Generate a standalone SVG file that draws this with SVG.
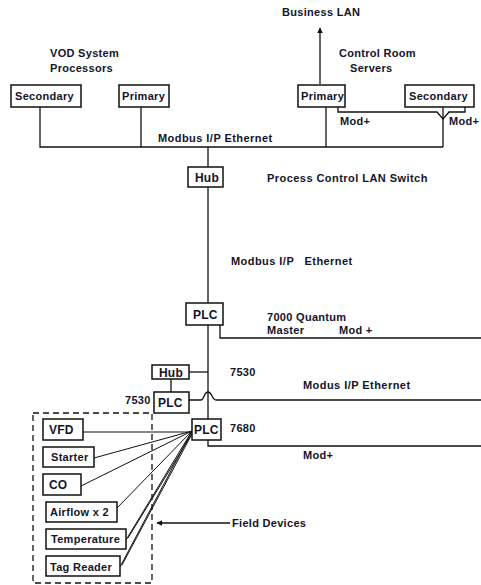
<svg xmlns="http://www.w3.org/2000/svg" width="481" height="585" viewBox="0 0 481 585">
<defs>
<style>
text{font-family:"Liberation Sans",Arial,sans-serif;font-weight:bold;font-size:11px;fill:#14142a;letter-spacing:0.3px}
.wide{letter-spacing:0.45px}
.big{font-size:12px;letter-spacing:0.2px}
.box{fill:#fff;stroke:#111;stroke-width:1.5}
.ln{fill:none;stroke:#111;stroke-width:1.3}
.thin{fill:none;stroke:#111;stroke-width:1}
</style>
<marker id="ah" viewBox="0 0 10 10" refX="9" refY="5" markerWidth="6" markerHeight="6" orient="auto-start-reverse" markerUnits="userSpaceOnUse">
<path d="M0,0 L10,5 L0,10 z" fill="#111"/>
</marker>
</defs>
<rect width="481" height="585" fill="#fff"/>

<g id="connectors">
<!-- top bus -->
<path class="ln" d="M40,107 V147 H443"/>
<path class="ln" d="M141,107 V147"/>
<path class="ln" d="M326,107 V147"/>
<path class="ln" d="M443,107 V147"/>
<path class="ln" d="M320,84 V28" marker-end="url(#ah)"/>
<path class="ln" d="M338,107 V112 H437 L443,119 L449,112 H465 V107"/>
<!-- main trunk -->
<path class="ln" d="M208,147 V167"/>
<path class="ln" d="M208,187 V303"/>
<path class="ln" d="M208,325 V419"/>
<path class="ln" d="M220,325 V338 H481"/>
<!-- hub / 7530 -->
<path class="ln" d="M189,372 H208"/>
<path class="ln" d="M171,379 V392"/>
<path class="ln" d="M189,400 H201 C204,400 204,392 208,392 C212,392 212,400 216,400 H481"/>
<!-- 7680 mod+ -->
<path class="ln" d="M208,440 V446 H481"/>
<!-- field device links -->
<path class="thin" d="M83,432 H192"/>
<path class="thin" d="M94,458 L192,431"/>
<path class="thin" d="M81,486 L192,431"/>
<path class="thin" d="M117,508 L192,431"/>
<path class="thin" d="M126,540 L192,431"/>
<path class="thin" d="M128,538 L193,432"/>
<path class="thin" d="M120,567 L192,431"/>
<path class="thin" d="M122,565 L193,432"/>
<!-- field devices arrow -->
<path class="ln" d="M230,523 H157" marker-end="url(#ah)"/>
<rect x="33" y="413" width="119" height="170" fill="none" stroke="#111" stroke-width="1.3" stroke-dasharray="6,4"/>
</g>

<g id="vod-secondary"><rect class="box" x="11" y="85" width="70" height="22"/><text x="15" y="100">Secondary</text></g>
<g id="vod-primary"><rect class="box" x="119" y="85" width="50" height="22"/><text x="122" y="100">Primary</text></g>
<g id="cr-primary"><rect class="box" x="298" y="85" width="47" height="22"/><text x="301" y="100">Primary</text></g>
<g id="cr-secondary"><rect class="box" x="405" y="85" width="69" height="22"/><text x="409" y="100">Secondary</text></g>
<g id="hub-main"><rect class="box" x="188" y="167" width="35" height="20"/><text class="big" x="195" y="182">Hub</text></g>
<g id="plc-7000"><rect class="box" x="186" y="303" width="37" height="22"/><text class="big" x="193" y="319">PLC</text></g>
<g id="hub-7530"><rect class="box" x="152" y="365" width="37" height="14"/><text class="big" x="159" y="377">Hub</text></g>
<g id="plc-7530"><rect class="box" x="154" y="392" width="35" height="21"/><text class="big" x="158" y="407">PLC</text></g>
<g id="plc-7680"><rect class="box" x="192" y="419" width="29" height="21"/><text class="big" x="194" y="434">PLC</text></g>

<g id="vfd"><rect class="box" x="43" y="419" width="40" height="21"/><text class="big" x="49" y="434">VFD</text></g>
<g id="starter"><rect class="box" x="43" y="447" width="51" height="20"/><text x="51" y="461">Starter</text></g>
<g id="co"><rect class="box" x="43" y="474" width="38" height="21"/><text class="big" x="49" y="489">CO</text></g>
<g id="airflow"><rect class="box" x="46" y="502" width="71" height="20"/><text x="50" y="516">Airflow x 2</text></g>
<g id="temperature"><rect class="box" x="46" y="529" width="80" height="20"/><text x="51" y="543">Temperature</text></g>
<g id="tag-reader"><rect class="box" x="46" y="556" width="74" height="20"/><text x="50" y="571">Tag Reader</text></g>

<g id="labels">
<text x="282" y="16">Business LAN</text>
<text x="50" y="57">VOD System</text>
<text x="50" y="72">Processors</text>
<text x="339" y="57">Control Room</text>
<text x="350" y="72">Servers</text>
<text x="340" y="125">Mod+</text>
<text x="449" y="125">Mod+</text>
<text class="wide" x="158" y="142">Modbus I/P Ethernet</text>
<text class="wide" x="267" y="182">Process Control LAN Switch</text>
<text class="wide" x="231" y="265" xml:space="preserve">Modbus I/P   Ethernet</text>
<text x="267" y="321">7000 Quantum</text>
<text x="267" y="334">Master</text>
<text x="339" y="334">Mod +</text>
<text x="230" y="376">7530</text>
<text class="wide" x="303" y="389">Modus I/P Ethernet</text>
<text x="125" y="404">7530</text>
<text x="230" y="432">7680</text>
<text x="303" y="459">Mod+</text>
<text x="232" y="527">Field Devices</text>
</g>
</svg>
